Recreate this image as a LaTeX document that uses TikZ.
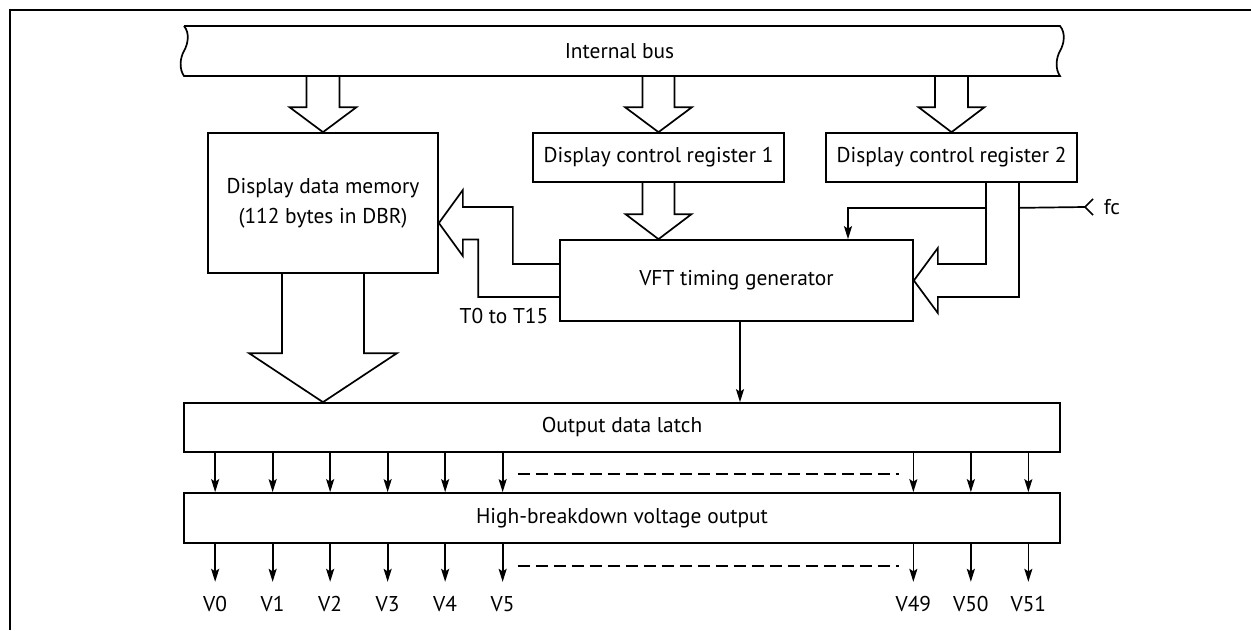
\documentclass[tikz,border=0pt]{standalone}
\usepackage{fontspec}
\setmainfont{PT Sans}
\usetikzlibrary{calc,arrows.meta}
\newcommand\fs{\fontsize{21.4}{30}\selectfont}
\newcommand\hollowdn[5]{% source, tip, shaft half width, head half width, head length
  \path (#2) ++(-#3,0) coordinate (hA) (#2) ++(#3,0) coordinate (hB);
  \draw[hollow] (hA |- #1) -- ($(#2)+(-#3,-#5)$) -- ($(#2)+(-#4,-#5)$) -- (#2)
     -- ($(#2)+(#4,-#5)$) -- ($(#2)+(#3,-#5)$) -- (hB |- #1);
}
\begin{document}
\begin{tikzpicture}[x=1pt,y=-1pt,line width=1.7pt,
  box/.style={draw,line width=1.7pt,inner sep=0pt,font=\fs},
  lbl/.style={inner sep=0pt,font=\fs},
  hollow/.style={draw,line width=1.7pt,line join=miter},
  tarrow/.style={line width=1.7pt,-{Stealth[length=13pt,width=8pt,inset=2.5pt]}},
  dline/.style={line width=1.7pt,dash pattern=on 12pt off 6pt}]
\useasboundingbox (0,0) rectangle (1251,630);
% frame
\draw[line width=2.4pt] (1251,10) -- (10,10) -- (10,630);
% internal bus
\node[lbl,minimum width=877pt,minimum height=50pt] (bus) at (619.5,51) {Internal bus};
\draw (184,26) -- (1060,26) .. controls (1066,33) and (1064,44) .. (1060,51)
  .. controls (1056,58) and (1055,69) .. (1060,76) -- (184,76)
  .. controls (179,69) and (180,58) .. (184,51) .. controls (188,44) and (190,33) .. (184,26);
% boxes
\node[box,minimum width=230pt,minimum height=140pt,align=center] (mem) at (323,203)
  {Display data memory\\(112 bytes in DBR)};
\node[box,minimum width=251pt,minimum height=49pt] (reg1) at (658.5,157.5) {Display control register 1};
\node[box,minimum width=251pt,minimum height=49pt] (reg2) at (951.5,157.5) {Display control register 2};
\node[box,minimum width=353pt,minimum height=81pt] (vft) at (736.5,280.5) {VFT timing generator};
\node[box,minimum width=876pt,minimum height=49pt] (latch) at (622,427.5) {Output data latch};
\node[box,minimum width=876pt,minimum height=50pt] (hbv) at (622,518) {High-breakdown voltage output};
% hollow arrows from bus
\hollowdn{bus.south}{mem.north}{16.5}{33.5}{25}
\hollowdn{bus.south}{reg1.north}{16}{33.5}{25}
\hollowdn{bus.south}{reg2.north}{16.5}{33}{25}
\coordinate (t4) at (reg1.south |- vft.north);
\hollowdn{reg1.south}{t4}{16}{33}{25}
\coordinate (t5) at (mem.south |- latch.north);
\hollowdn{mem.south}{t5}{41}{74}{49}
% VFT -> memory (T0 to T15)
\coordinate (tl) at ($(mem.east)+(0,20)$);
\draw[hollow] ($(vft.west)+(0,-16.5)$) -| ($(tl)+(74,-16)$) -- ($(tl)+(24,-16)$)
  -- ($(tl)+(24,-33)$) -- (tl) -- ($(tl)+(24,33)$) -- ($(tl)+(24,16.5)$)
  -| ($(vft.west)+(-81,16.5)$) -- ($(vft.west)+(0,16.5)$);
\node[lbl,anchor=east] (tlab) at ($(vft.south west)+(-10,-6)$) {T0 to T15};
% register 2 -> VFT
\draw[hollow] ($(reg2.south)+(34.5,0)$) |- ($(vft.east)+(24,-16.5)$) -- ($(vft.east)+(24,-32.5)$)
  -- (vft.east) -- ($(vft.east)+(24,32.5)$) -- ($(vft.east)+(24,16.5)$) -| ($(reg2.south)+(67.5,0)$);
\coordinate (j1) at ($(reg2.south)+(34.5,25)$);
\coordinate (j2) at ($(reg2.south)+(67.5,25)$);
\coordinate (vin) at ($(vft.north)+(111.5,0)$);
\draw[tarrow] (j1) -| (vin);
\node[lbl,anchor=west] (fc) at (1103,207) {fc};
\coordinate (fcin) at ($(fc.west)+(-18,0)$);
\draw (j2) -- (fcin);
\draw ($(fcin)+(8,-8)$) -- (fcin) -- ($(fcin)+(8,8)$);
% VFT -> latch
\coordinate (vs) at ($(vft.south)+(3.5,0)$);
\draw[tarrow] (vs) -- (vs |- latch.north);
% output arrows
\foreach \i in {0,...,5}{
  \coordinate (a\i) at ($(latch.south west)+(32+57.5*\i,0)$);
  \draw[tarrow] (a\i) -- (a\i |- hbv.north);
  \coordinate (b\i) at (a\i |- hbv.south);
  \coordinate (e\i) at ($(b\i)+(0,38)$);
  \draw[tarrow] (b\i) -- (e\i);
  \node[lbl] (v\i) at ($(b\i)+(0,60)$) {V\i};
}
\foreach \i/\d in {49/147.5,50/90,51/32.5}{
  \coordinate (a\i) at ($(latch.south east)+(-\d,0)$);
  \draw[tarrow] (a\i) -- (a\i |- hbv.north);
  \coordinate (b\i) at (a\i |- hbv.south);
  \coordinate (e\i) at ($(b\i)+(0,38)$);
  \draw[tarrow] (b\i) -- (e\i);
  \node[lbl] (v\i) at ($(b\i)+(0,60)$) {V\i};
}
\draw[dline] ($(a5)+(15,21)$) -- ($(a49)+(-14.5,21)$);
\draw[dline] ($(b5)+(15,22)$) -- ($(b49)+(-14.5,22)$);
\end{tikzpicture}
\end{document}
